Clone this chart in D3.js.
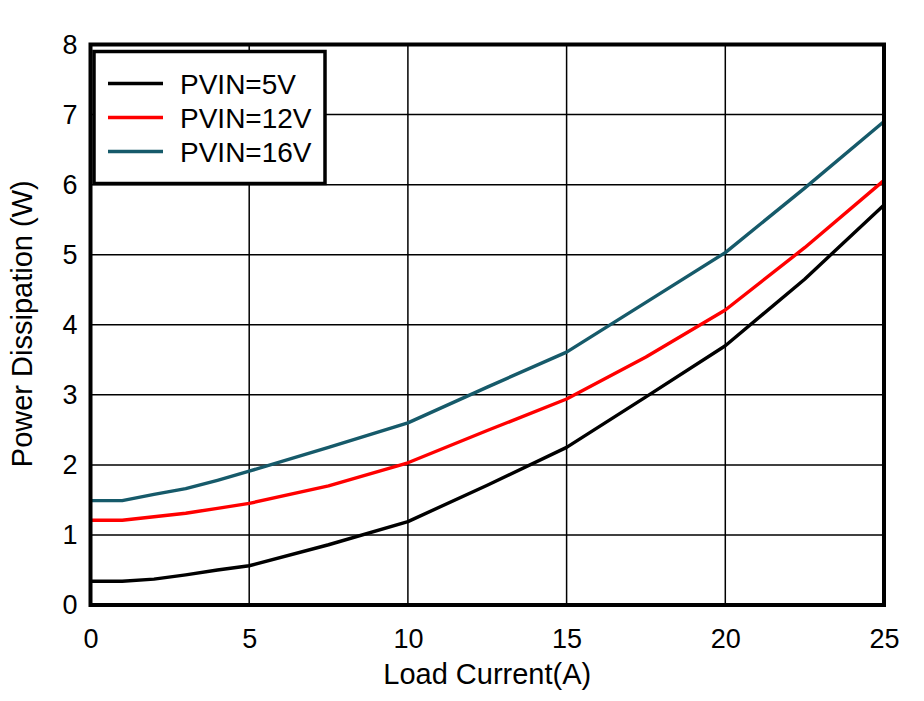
<!DOCTYPE html>
<html>
<head>
<meta charset="utf-8">
<script src="https://cdn.jsdelivr.net/npm/d3@7"></script>
<style>
  body { margin: 0; background: #fff; }
  svg text { font-family: Arial, "Liberation Sans", sans-serif; fill: #000; }
</style>
</head>
<body>
<div id="chart"></div>
<script>
// load current (A)
var current = [0, 1, 2, 3, 4, 5, 7.5, 10, 12.5, 15, 17.5, 20, 22.5, 25];

// power dissipation (W)
var pvin5  = [0.34, 0.34, 0.37, 0.43, 0.50, 0.56, 0.86, 1.19, 1.71, 2.25, 2.97, 3.70, 4.65, 5.71];
var pvin12 = [1.21, 1.21, 1.26, 1.31, 1.38, 1.45, 1.70, 2.03, 2.49, 2.94, 3.54, 4.21, 5.10, 6.06];
var pvin16 = [1.49, 1.49, 1.58, 1.66, 1.78, 1.91, 2.25, 2.60, 3.11, 3.61, 4.32, 5.03, 5.95, 6.90];

var seriesNames = ["PVIN=5V", "PVIN=12V", "PVIN=16V"];
var seriesColors = ["#000000", "#ff0000", "#165a6a"];

var xTicks = [0, 5, 10, 15, 20, 25];
var yTicks = [0, 1, 2, 3, 4, 5, 6, 7, 8];

var width = 924, height = 701;
var margin = {top: 44.5, right: 40, bottom: 96, left: 90.5};

var svg = d3.select("#chart").append("svg")
    .attr("width", width)
    .attr("height", height);

var x = d3.scaleLinear().domain([0, 25]).range([margin.left, width - margin.right]);
var y = d3.scaleLinear().domain([0, 8]).range([height - margin.bottom, margin.top]);

// grid
svg.append("g")
    .selectAll("line.vg")
    .data(xTicks)
    .enter()
    .append("line")
    .attr("x1", function(d){ return x(d); })
    .attr("x2", function(d){ return x(d); })
    .attr("y1", y(0))
    .attr("y2", y(8))
    .style("stroke", "#000")
    .style("stroke-width", 1.5);

svg.append("g")
    .selectAll("line.hg")
    .data(yTicks)
    .enter()
    .append("line")
    .attr("x1", x(0))
    .attr("x2", x(25))
    .attr("y1", function(d){ return y(d); })
    .attr("y2", function(d){ return y(d); })
    .style("stroke", "#000")
    .style("stroke-width", 1.5);

// axes (labels only, frame drawn below)
var xAxis = svg.append("g")
    .attr("transform", "translate(0," + y(0) + ")")
    .call(d3.axisBottom(x).tickValues(xTicks).tickSize(0).tickPadding(24));
var yAxis = svg.append("g")
    .attr("transform", "translate(" + x(0) + ",0)")
    .call(d3.axisLeft(y).tickValues(yTicks).tickSize(0).tickPadding(13));

[xAxis, yAxis].forEach(function(a){
    a.select(".domain").remove();
    a.selectAll("text").style("font-size", "27px").attr("fill", "#000");
});

// lines
var line = d3.line()
    .x(function(d){ return x(d[0]); })
    .y(function(d){ return y(d[1]); });

[pvin5, pvin12, pvin16].forEach(function(vals, i){
    var pts = current.map(function(c, j){ return [c, vals[j]]; });
    svg.append("path")
        .datum(pts)
        .attr("d", line)
        .style("fill", "none")
        .style("stroke", seriesColors[i])
        .style("stroke-width", 3.4)
        .style("stroke-linejoin", "round");
});

// frame
svg.append("rect")
    .attr("x", x(0))
    .attr("y", y(8))
    .attr("width", x(25) - x(0))
    .attr("height", y(0) - y(8))
    .style("fill", "none")
    .style("stroke", "#000")
    .style("stroke-width", 4);

// legend
var lg = svg.append("g");
lg.append("rect")
    .attr("x", 94)
    .attr("y", 51.5)
    .attr("width", 231)
    .attr("height", 132)
    .style("fill", "#fff")
    .style("stroke", "#000")
    .style("stroke-width", 3.5);

seriesNames.forEach(function(name, i){
    var yy = 83.5 + i * 34;
    lg.append("line")
        .attr("x1", 108).attr("x2", 163)
        .attr("y1", yy).attr("y2", yy)
        .style("stroke", seriesColors[i])
        .style("stroke-width", 3.5);
    lg.append("text")
        .attr("x", 180)
        .attr("y", yy)
        .attr("dy", "0.36em")
        .style("font-size", "28px")
        .text(name);
});

// axis titles
svg.append("text")
    .attr("x", (x(0) + x(25)) / 2)
    .attr("y", 684)
    .attr("text-anchor", "middle")
    .style("font-size", "29px")
    .text("Load Current(A)");

svg.append("text")
    .attr("transform", "translate(32," + ((y(0) + y(8)) / 2 - 1) + ") rotate(-90)")
    .attr("text-anchor", "middle")
    .style("font-size", "29px")
    .text("Power Dissipation (W)");
</script>
</body>
</html>
